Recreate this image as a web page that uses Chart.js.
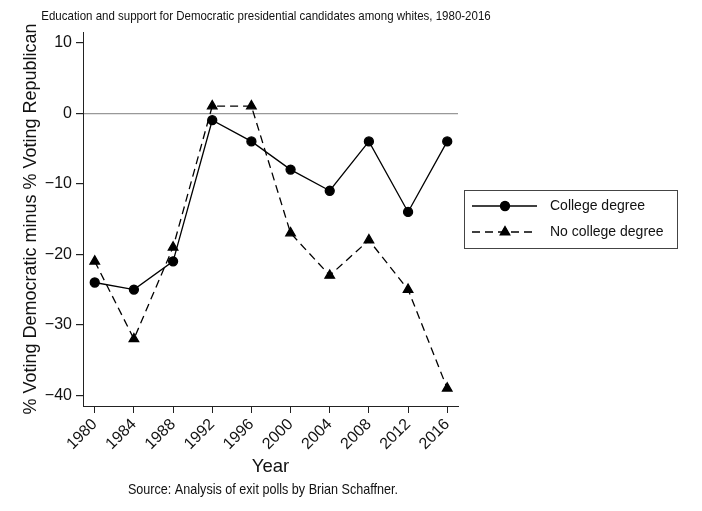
<!DOCTYPE html>
<html>
<head>
<meta charset="utf-8">
<script src="https://cdn.jsdelivr.net/npm/chart.js@4"></script>
<style>
html,body{margin:0;padding:0;background:#fff;}
canvas{display:block;}
</style>
</head>
<body>
<canvas id="c" width="702" height="511"></canvas>
<script>
const years = [1980, 1984, 1988, 1992, 1996, 2000, 2004, 2008, 2012, 2016];
const collegeDegree = [-24, -25, -21, -1, -4, -8, -11, -4, -14, -4];
const noCollegeDegree = [-21, -32, -19, 1, 1, -17, -23, -18, -25, -39];
const yTicks = [-40, -30, -20, -10, 0, 10];
const seriesNames = ['College degree', 'No college degree'];
const chartTitle = 'Education and support for Democratic presidential candidates among whites, 1980-2016';
const sourceNote = 'Source: Analysis of exit polls by Brian Schaffner.';
const xTitle = 'Year';
const yTitle = '% Voting Democratic minus % Voting Republican';

const FONT = '"Liberation Sans", Arial, Helvetica, sans-serif';

function narrowText(ctx, text, cx, cy, size, sx) {
  ctx.save();
  ctx.translate(cx, cy);
  ctx.scale(sx, 1);
  ctx.font = size + 'px ' + FONT;
  ctx.textAlign = 'center';
  ctx.textBaseline = 'middle';
  ctx.fillText(text, 0, 0);
  ctx.restore();
}

const extras = {
  id: 'extras',
  afterDraw(chart) {
    const ctx = chart.ctx;
    ctx.save();
    ctx.fillStyle = '#111';
    narrowText(ctx, chartTitle, 266, 16, 13.5, 11.5 / 13.5);
    narrowText(ctx, sourceNote, 263, 490, 15, 12.6 / 15);
    // legend
    ctx.strokeStyle = '#444';
    ctx.lineWidth = 1;
    ctx.strokeRect(464.5, 190.5, 213, 58);
    const rows = [
      {y: 206, dash: [], style: 'circle', text: seriesNames[0]},
      {y: 232, dash: [8, 5], style: 'triangle', text: seriesNames[1]}
    ];
    rows.forEach(r => {
      ctx.strokeStyle = '#000';
      ctx.lineWidth = 1.3;
      ctx.setLineDash(r.dash);
      ctx.beginPath();
      ctx.moveTo(472, r.y);
      ctx.lineTo(537, r.y);
      ctx.stroke();
      ctx.setLineDash([]);
      Chart.helpers.drawPoint(ctx, {pointStyle: r.style, radius: r.style === 'circle' ? 4.5 : 5.5, borderWidth: 1, rotation: 0}, 505, r.y);
      ctx.fillStyle = '#000';
      ctx.fill();
      ctx.fillStyle = '#111';
      ctx.font = '14px ' + FONT;
      ctx.textAlign = 'left';
      ctx.textBaseline = 'middle';
      ctx.fillText(r.text, 550, r.y);
    });
    ctx.restore();
  }
};

const minusFmt = v => v < 0 ? '\u2212' + Math.abs(v) : String(v);

new Chart(document.getElementById('c'), {
  type: 'line',
  data: {
    datasets: [
      {
        label: seriesNames[0],
        data: years.map((y, i) => ({x: y, y: collegeDegree[i]})),
        borderColor: '#000',
        backgroundColor: '#000',
        borderWidth: 1.3,
        pointStyle: 'circle',
        pointRadius: 4.5,
        pointBackgroundColor: '#000',
        pointBorderColor: '#000',
        tension: 0
      },
      {
        label: seriesNames[1],
        data: years.map((y, i) => ({x: y, y: noCollegeDegree[i]})),
        borderColor: '#000',
        backgroundColor: '#000',
        borderWidth: 1.3,
        borderDash: [8, 5],
        pointStyle: 'triangle',
        pointRadius: 5.5,
        pointBackgroundColor: '#000',
        pointBorderColor: '#000',
        tension: 0
      }
    ]
  },
  options: {
    responsive: false,
    animation: false,
    devicePixelRatio: 1,
    layout: {padding: {left: 0, top: 32, right: 244, bottom: 0}},
    plugins: {
      legend: {display: false},
      title: {display: false},
      tooltip: {enabled: false}
    },
    scales: {
      x: {
        type: 'linear',
        min: 1978.8,
        max: 2017.1,
        afterBuildTicks: s => { s.ticks = years.map(v => ({value: v})); },
        afterFit: s => { s.height = 105; },
        border: {display: true, color: '#222', width: 1},
        grid: {drawOnChartArea: false, drawTicks: true, tickLength: 7, tickColor: '#222', tickWidth: 1},
        ticks: {
          autoSkip: false,
          maxRotation: 45,
          minRotation: 45,
          padding: 2,
          color: '#111',
          font: {family: FONT, size: 16},
          callback: v => String(v)
        },
        title: {
          display: true,
          text: xTitle,
          color: '#111',
          font: {family: FONT, size: 18.5},
          padding: {top: 0, bottom: 33}
        }
      },
      y: {
        type: 'linear',
        min: -41.5,
        max: 11.5,
        afterBuildTicks: s => { s.ticks = yTicks.map(v => ({value: v})); },
        afterFit: s => { s.width = 83; },
        border: {display: true, color: '#222', width: 1},
        grid: {
          drawOnChartArea: true,
          drawTicks: true,
          tickLength: 7,
          tickColor: '#222',
          color: c => (c.tick && c.tick.value === 0) ? '#999' : 'rgba(0,0,0,0)',
          lineWidth: 1.2
        },
        ticks: {
          padding: 4,
          color: '#111',
          font: {family: FONT, size: 16},
          callback: v => minusFmt(v)
        },
        title: {
          display: true,
          text: yTitle,
          color: '#111',
          font: {family: FONT, size: 18},
          padding: {top: 20, bottom: 0}
        }
      }
    }
  },
  plugins: [extras]
});
</script>
</body>
</html>
